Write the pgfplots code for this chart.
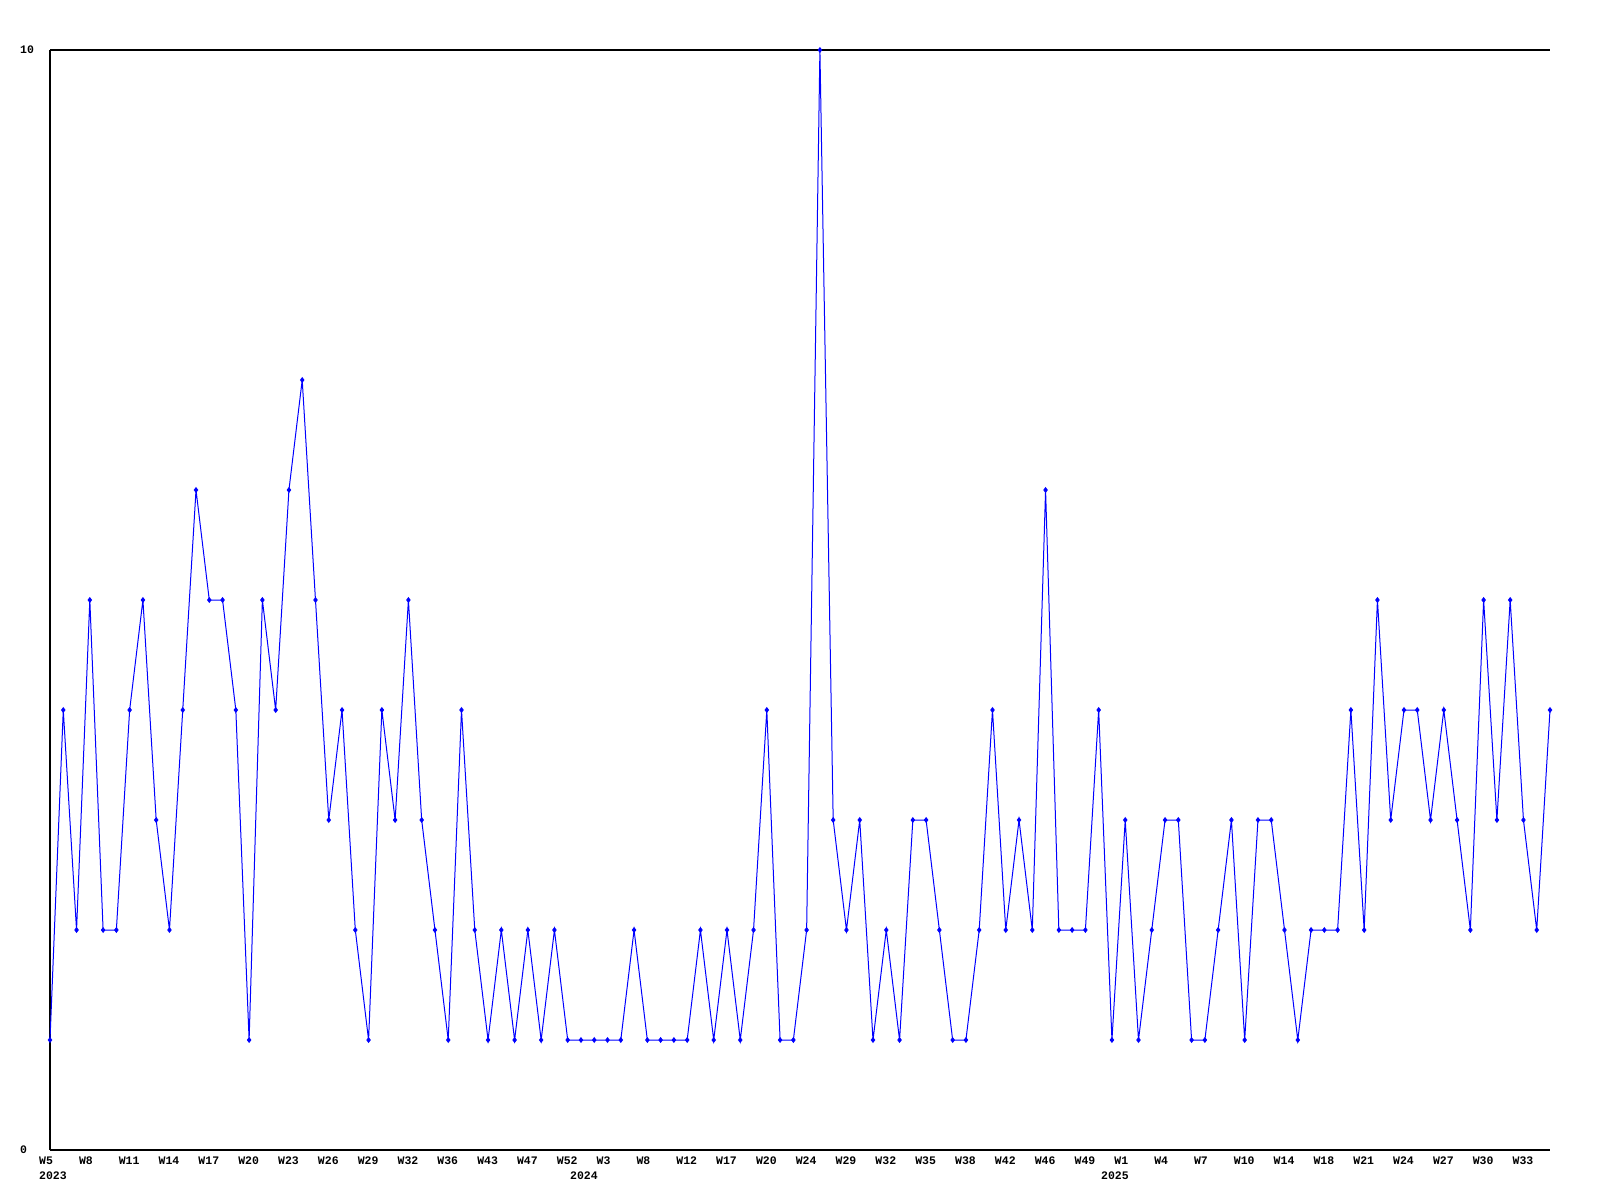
\documentclass[border=0pt]{standalone}
\usepackage{pgfplots}
\pgfplotsset{compat=1.18}
\usepackage{fontspec}
\setmainfont{Liberation Mono}
\pgfplotstableread{
x y
0 1
1 4
2 2
3 5
4 2
5 2
6 4
7 5
8 3
9 2
10 4
11 6
12 5
13 5
14 4
15 1
16 5
17 4
18 6
19 7
20 5
21 3
22 4
23 2
24 1
25 4
26 3
27 5
28 3
29 2
30 1
31 4
32 2
33 1
34 2
35 1
36 2
37 1
38 2
39 1
40 1
41 1
42 1
43 1
44 2
45 1
46 1
47 1
48 1
49 2
50 1
51 2
52 1
53 2
54 4
55 1
56 1
57 2
58 10
59 3
60 2
61 3
62 1
63 2
64 1
65 3
66 3
67 2
68 1
69 1
70 2
71 4
72 2
73 3
74 2
75 6
76 2
77 2
78 2
79 4
80 1
81 3
82 1
83 2
84 3
85 3
86 1
87 1
88 2
89 3
90 1
91 3
92 3
93 2
94 1
95 2
96 2
97 2
98 4
99 2
100 5
101 3
102 4
103 4
104 3
105 4
106 3
107 2
108 5
109 3
110 5
111 3
112 2
113 4
}\datatable
\begin{document}
\begin{tikzpicture}
\begin{axis}[
  at={(0pt,0pt)}, anchor=south west,
  scale only axis, width=1500pt, height=1100pt,
  xmin=0, xmax=113, ymin=0, ymax=10,
  axis x line*=box, axis y line*=left,
  axis line style={black, line width=1.2pt},
  major tick length=0pt,
  clip=false,
  ticklabel style={font=\fontsize{11.5}{12}\selectfont\bfseries},
  ytick={0,10}, yticklabels={0,10},
  yticklabel style={anchor=west, inner sep=0pt, xshift=-30pt},
  xtick={0,3,...,111},
  xticklabels={W5,W8,W11,W14,W17,W20,W23,W26,W29,W32,W36,W43,W47,W52,W3,W8,W12,W17,W20,W24,W29,W32,W35,W38,W42,W46,W49,W1,W4,W7,W10,W14,W18,W21,W24,W27,W30,W33},
  xticklabel style={anchor=north west, inner sep=0pt, xshift=-11pt, yshift=-7pt},
  extra x ticks={0,40,80},
  extra x tick labels={2023,2024,2025},
  extra x tick style={xticklabel style={yshift=-15pt}},
]
\addplot[color={rgb,255:red,0;green,0;blue,255}, line width=1pt, mark=diamond*, mark size=2.2pt] table[x=x, y=y] {\datatable};
\end{axis}
\path (-50pt,-50pt) rectangle (1550pt,1150pt);
\end{tikzpicture}
\end{document}
